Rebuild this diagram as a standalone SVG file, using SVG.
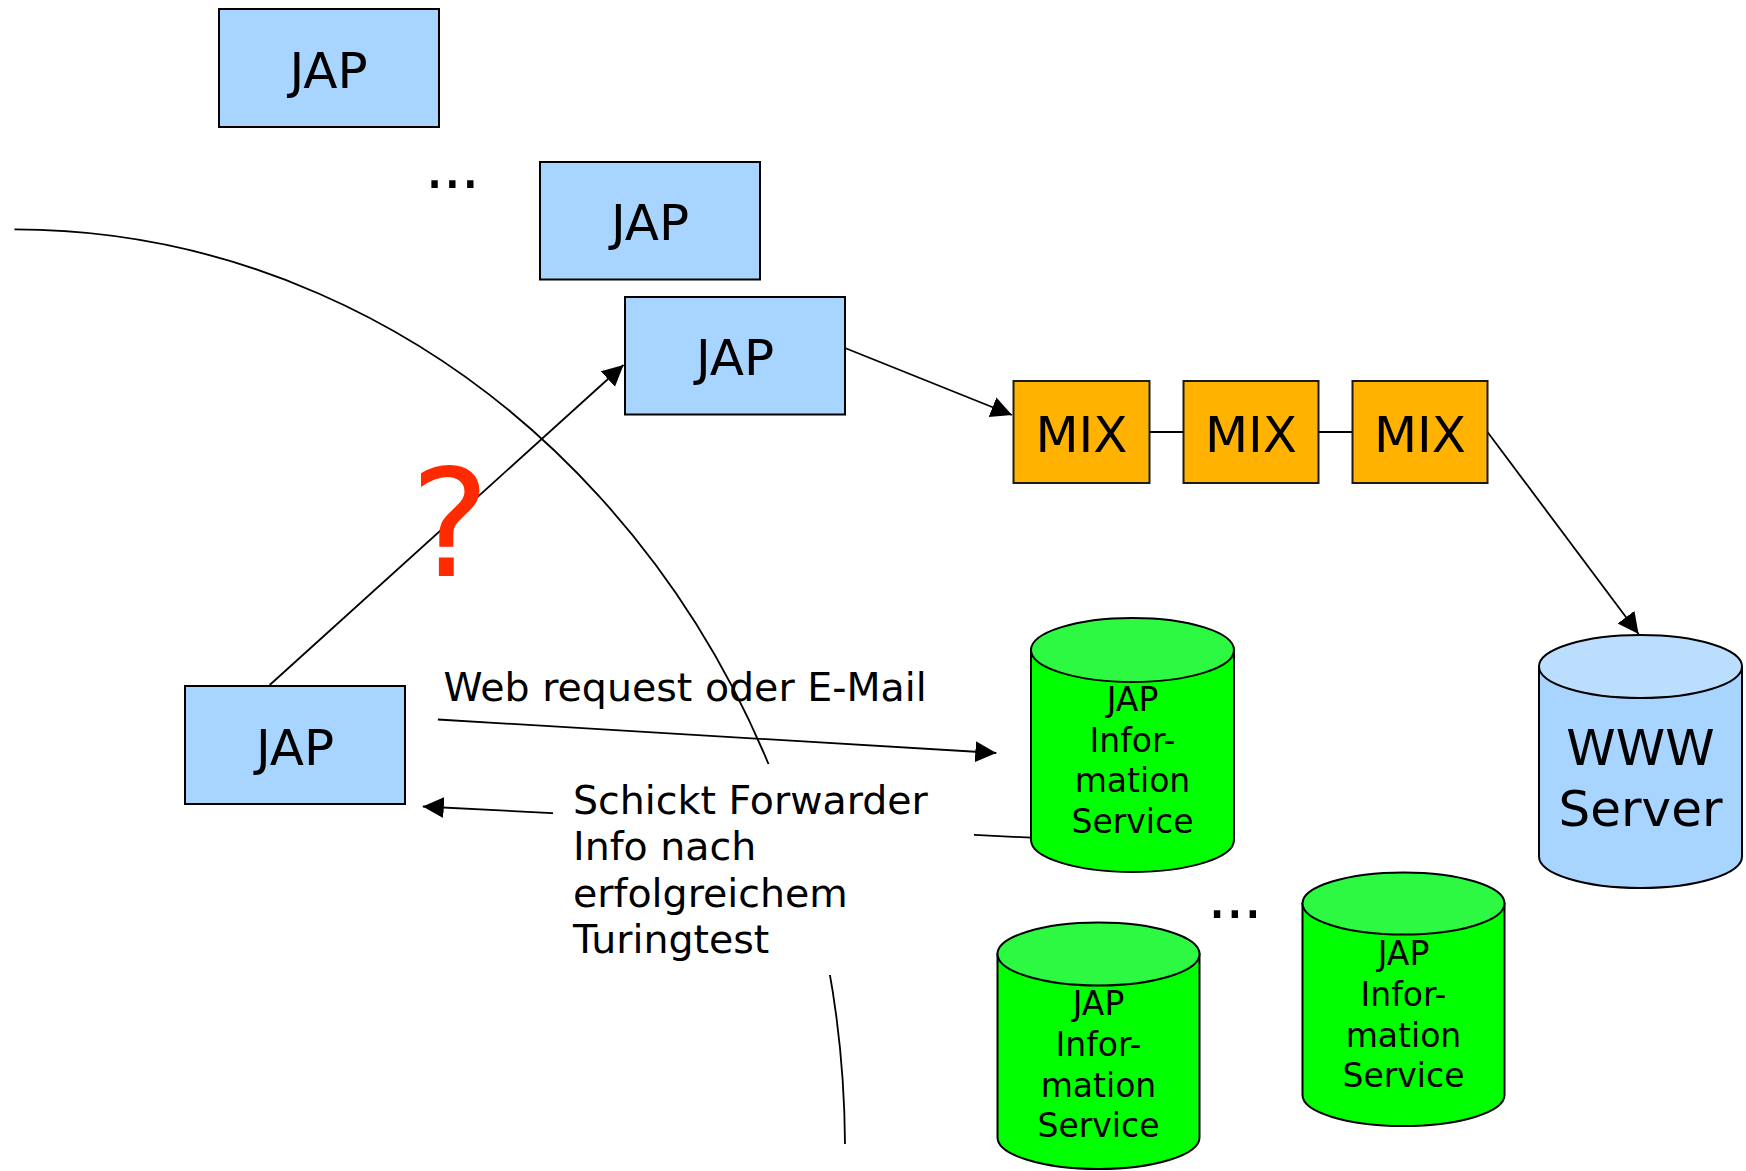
<svg xmlns="http://www.w3.org/2000/svg" width="1746" height="1171" viewBox="0 0 1746 1171">
  <style>
    .jap { fill: #a8d5ff; stroke: #000; stroke-width: 2; }
    .mix { fill: #ffb300; stroke: #1a1a1a; stroke-width: 2; }
    .t { font-family: "DejaVu Sans", Verdana, sans-serif; fill: #000; }
    .big { font-size: 50px; text-anchor: middle; }
    .lbl { font-size: 39.5px; }
    .cyl { font-size: 33px; text-anchor: middle; }
    .dots { font-size: 62px; letter-spacing: -1.8px; }
    .line { fill: none; stroke: #000; stroke-width: 1.8; }
    .gbody { fill: #00ff00; stroke: #000; stroke-width: 2; }
    .gtop { fill: #2ef942; stroke: #000; stroke-width: 2; }
    .bbody { fill: #a8d5ff; stroke: #000; stroke-width: 2; }
    .btop { fill: #bbdeff; stroke: #000; stroke-width: 2; }
  </style>
  <defs>
    <marker id="arr" markerUnits="userSpaceOnUse" markerWidth="22" markerHeight="22" refX="21" refY="10.5" orient="auto">
      <path d="M0,0 L21,10.5 L0,21 z" fill="#000"/>
    </marker>
  </defs>
  <rect width="1746" height="1171" fill="#fff"/>

  <g id="connectors">
    <path class="line" d="M 14.5 229.4 A 831 920.6 0 0 1 845 1144"/>
    <line class="line" x1="269.7" y1="685" x2="623.5" y2="365" marker-end="url(#arr)"/>
    <line class="line" x1="845" y1="348" x2="1012" y2="415" marker-end="url(#arr)"/>
    <line class="line" x1="1149.5" y1="432" x2="1183.5" y2="432"/>
    <line class="line" x1="1318.5" y1="432" x2="1352.5" y2="432"/>
    <line class="line" x1="1487.5" y1="432" x2="1638.6" y2="634" marker-end="url(#arr)"/>
    <line class="line" x1="437.9" y1="719.5" x2="996.3" y2="753" marker-end="url(#arr)"/>
    <line class="line" x1="1031" y1="837.7" x2="422.8" y2="806.5" marker-end="url(#arr)"/>
  </g>

  <g id="jap1">
    <rect class="jap" x="219" y="9" width="220" height="118"/>
    <text class="t big" x="328.5" y="88">JAP</text>
  </g>
  <g id="dots1">
    <text class="t dots" x="424.7" y="188.4">...</text>
  </g>
  <g id="jap2">
    <rect class="jap" x="540" y="162" width="220" height="117.5"/>
    <text class="t big" x="650" y="240">JAP</text>
  </g>
  <g id="jap3">
    <rect class="jap" x="625" y="297" width="220" height="117.5"/>
    <text class="t big" x="735" y="375">JAP</text>
  </g>
  <g id="jap4">
    <rect class="jap" x="185" y="686" width="220" height="118"/>
    <text class="t big" x="295" y="764.5">JAP</text>
  </g>

  <g id="mix1">
    <rect class="mix" x="1013.5" y="381" width="136" height="102"/>
    <text class="t big" x="1081.5" y="451.7">MIX</text>
  </g>
  <g id="mix2">
    <rect class="mix" x="1183.5" y="381" width="135" height="102"/>
    <text class="t big" x="1251" y="451.7">MIX</text>
  </g>
  <g id="mix3">
    <rect class="mix" x="1352.5" y="381" width="135" height="102"/>
    <text class="t big" x="1420" y="451.7">MIX</text>
  </g>

  <g id="question">
    <text x="450" y="576" font-family="DejaVu Sans, Verdana, sans-serif" font-size="150" fill="#ff2a00" text-anchor="middle">?</text>
  </g>

  <g id="www">
    <path class="bbody" d="M1539 666.5 V856.5 A101.5 31.5 0 0 0 1742 856.5 V666.5 Z"/>
    <ellipse class="btop" cx="1640.5" cy="666.5" rx="101.5" ry="31.5"/>
    <text class="t big" x="1640.5" y="765">WWW</text>
    <text class="t big" x="1640.5" y="826">Server</text>
  </g>

  <g id="info1">
    <path class="gbody" d="M1031 650 V840 A101.5 32 0 0 0 1234 840 V650 Z"/>
    <ellipse class="gtop" cx="1132.5" cy="650" rx="101.5" ry="32"/>
    <text class="t cyl" x="1132.5" y="711.4">JAP</text>
    <text class="t cyl" x="1132.5" y="751.8">Infor-</text>
    <text class="t cyl" x="1132.5" y="792.4">mation</text>
    <text class="t cyl" x="1132.5" y="832.8">Service</text>
  </g>

  <g id="dots2">
    <text class="t dots" x="1207.2" y="918">...</text>
  </g>

  <g id="info2">
    <path class="gbody" d="M997.5 954 V1137.5 A101 31.5 0 0 0 1199.5 1137.5 V954 Z"/>
    <ellipse class="gtop" cx="1098.5" cy="954" rx="101" ry="31.5"/>
    <text class="t cyl" x="1098.5" y="1015">JAP</text>
    <text class="t cyl" x="1098.5" y="1055.7">Infor-</text>
    <text class="t cyl" x="1098.5" y="1096.5">mation</text>
    <text class="t cyl" x="1098.5" y="1137.3">Service</text>
  </g>

  <g id="info3">
    <path class="gbody" d="M1302.5 903.5 V1095 A101 31 0 0 0 1504.5 1095 V903.5 Z"/>
    <ellipse class="gtop" cx="1403.5" cy="903.5" rx="101" ry="31"/>
    <text class="t cyl" x="1403.5" y="965">JAP</text>
    <text class="t cyl" x="1403.5" y="1005.7">Infor-</text>
    <text class="t cyl" x="1403.5" y="1046.5">mation</text>
    <text class="t cyl" x="1403.5" y="1087.3">Service</text>
  </g>

  <g id="label-web">
    <text class="t lbl" x="443.5" y="701">Web request oder E-Mail</text>
  </g>

  <g id="label-forwarder">
    <rect x="553" y="764" width="421" height="211" fill="#fff"/>
    <text class="t lbl" x="573" y="813.5">Schickt Forwarder</text>
    <text class="t lbl" x="573" y="860">Info nach</text>
    <text class="t lbl" x="573" y="906.5">erfolgreichem</text>
    <text class="t lbl" x="573" y="953">Turingtest</text>
  </g>
</svg>
